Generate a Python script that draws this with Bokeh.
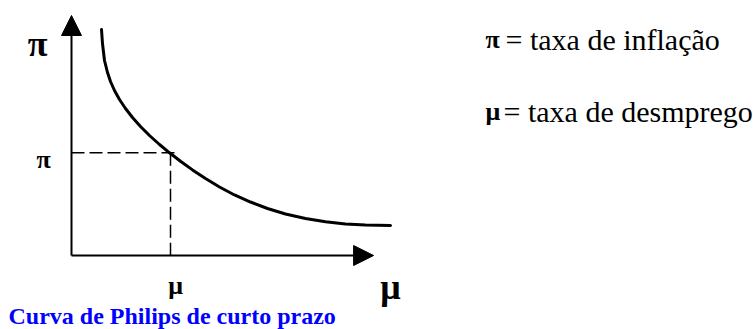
from bokeh.plotting import figure
from bokeh.models import Range1d, Arrow, NormalHead, Label
from bokeh.embed import file_html
from bokeh.resources import INLINE

# ---- data ----
unemployment = [1.000, 1.033, 1.100, 1.200, 1.300, 1.433, 1.600, 1.800, 2.033, 2.300, 2.600, 2.933,
                3.267, 3.633, 4.033, 4.467, 4.933, 5.433, 5.967, 6.533, 7.133, 7.800, 8.467, 9.133,
                9.800, 10.633]
inflation = [9.417, 8.833, 8.125, 7.625, 7.250, 6.875, 6.500, 6.125, 5.750, 5.375, 5.000, 4.625,
             4.279, 3.925, 3.567, 3.208, 2.854, 2.521, 2.229, 1.958, 1.729, 1.542, 1.404, 1.317,
             1.271, 1.250]
eq_unemployment = 3.3
eq_inflation = 4.28
axis_x_max = 10.07
axis_y_max = 10.0

title_text = "Curva de Philips de curto prazo"
legend_symbols = ["π", "μ"]
legend_texts = ["= taxa de inflação", "= taxa de desmprego"]

FONT = "Liberation Serif"
W, H = 753, 329
PX_X, PX_Y = 30, 24   # pixels per unit

p = figure(width=W, height=H, output_backend="svg", toolbar_location=None,
           x_axis_type=None, y_axis_type=None, min_border=0,
           x_range=Range1d(-71 / PX_X, (W - 71) / PX_X),
           y_range=Range1d(-(H - 255) / PX_Y, 255 / PX_Y))
p.outline_line_color = None
p.background_fill_color = "white"
p.border_fill_color = "white"

# axes with arrow heads
p.add_layout(Arrow(x_start=0, y_start=0, x_end=0, y_end=axis_y_max, line_width=2, line_color="black",
                   end=NormalHead(size=20, fill_color="black", line_color="black")))
p.add_layout(Arrow(x_start=0, y_start=0, x_end=axis_x_max, y_end=0, line_width=2, line_color="black",
                   end=NormalHead(size=20, fill_color="black", line_color="black")))

# dashed guides
p.line([0, eq_unemployment + 0.23], [eq_inflation, eq_inflation], line_color="black", line_width=1.5,
       line_dash="13 5")
p.line([eq_unemployment, eq_unemployment], [eq_inflation, 0], line_color="black", line_width=1.5,
       line_dash="13 5")

# curve
p.line(unemployment, inflation, line_color="black", line_width=3, line_join="round", line_cap="round")


def lab(x, y, t, size, bold=True, align="center", color="black"):
    p.add_layout(Label(x=x, y=y, text=t, text_font=FONT, text_font_size=f"{size}px",
                       text_font_style="bold" if bold else "normal", text_align=align,
                       text_baseline="alphabetic", text_color=color))


lab(-1.133, 8.833, "π", 36)
lab(-0.933, 4.02, "π", 26)
lab(3.467, -1.25, "μ", 26)
lab(10.633, -1.3125, "μ", 36)

lab(-2.1, -2.54, title_text, 24, align="left", color="#0000FF")

lab(13.8, 9.02, legend_symbols[0], 26, align="left")
lab(14.467, 9.02, legend_texts[0], 30, bold=False, align="left")
lab(13.8, 6.02, legend_symbols[1], 26, align="left")
lab(14.4, 6.02, legend_texts[1], 30, bold=False, align="left")

open("out.html", "w").write(file_html(p, INLINE))
